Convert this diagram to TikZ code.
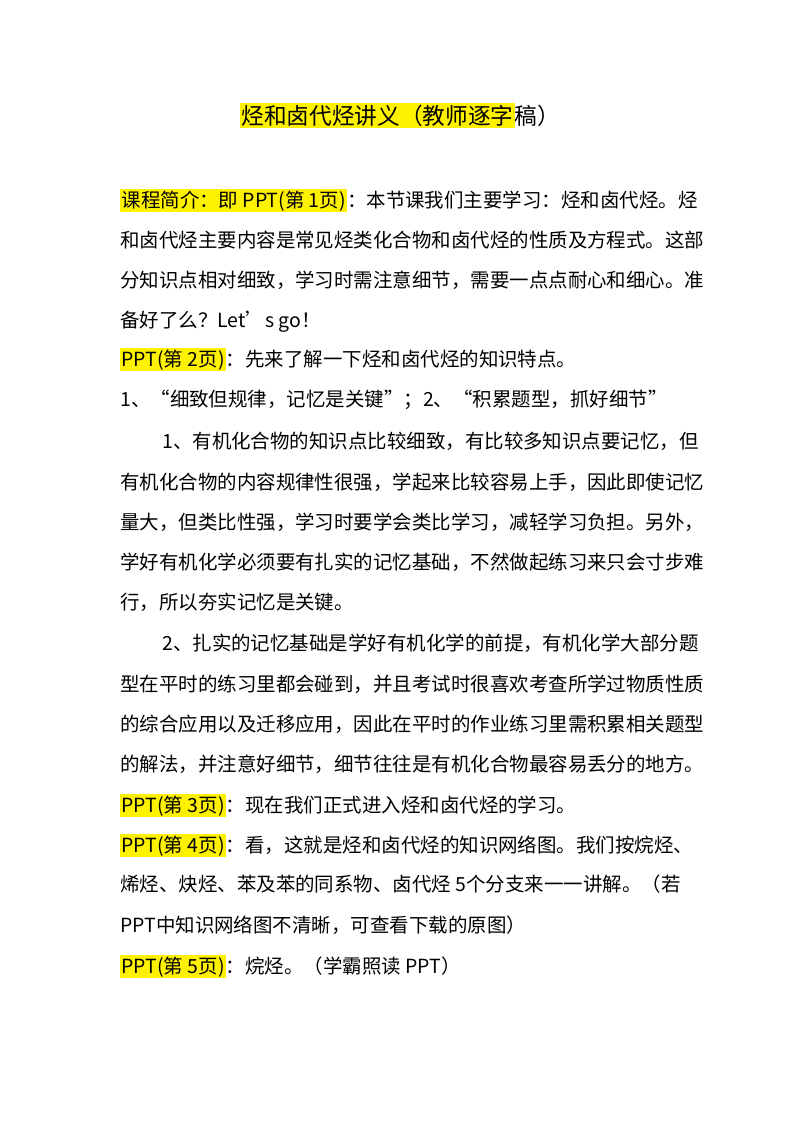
\documentclass[tikz,border=0pt]{standalone}
\usepackage{fontspec}
\setmainfont{Noto Sans CJK SC}
\newcommand{\hlt}[1]{{\setlength{\fboxsep}{1pt}\colorbox{yellow}{#1}}}
\begin{document}
\begin{tikzpicture}[x=0.75pt,y=-0.75pt,
  ln/.style={anchor=base west,inner sep=0pt,font=\fontsize{14.6}{18}\selectfont},
  ttl/.style={anchor=base,inner sep=0pt,font=\fontsize{17}{22}\selectfont}]
\useasboundingbox (0,0) rectangle (800,1132);
\fill[white] (0,0) rectangle (800,1132);
\node[ttl] (t) at (400,124) {\hlt{烃和卤代烃讲义（教师逐字}稿）};
\node[ln] (l1) at (120,207) {\hlt{课程简介：即 PPT(第 1页)}：本节课我们主要学习：烃和卤代烃。烃};
\node[ln] (l2) at (120,247) {和卤代烃主要内容是常见烃类化合物和卤代烃的性质及方程式。这部};
\node[ln] (l3) at (120,287) {分知识点相对细致，学习时需注意细节，需要一点点耐心和细心。准};
\node[ln] (l4) at (120,327) {备好了么？Let’s go！};
\node[ln] (l5) at (120,366) {\hlt{PPT(第 2页)}：先来了解一下烃和卤代烃的知识特点。};
\node[ln] (l6) at (120,406) {1、“细致但规律，记忆是关键”；2、“积累题型，抓好细节”};
\node[ln] (l7) at (162,448) {1、有机化合物的知识点比较细致，有比较多知识点要记忆，但};
\node[ln] (l8) at (120,489) {有机化合物的内容规律性很强，学起来比较容易上手，因此即使记忆};
\node[ln] (l9) at (120,529) {量大，但类比性强，学习时要学会类比学习，减轻学习负担。另外，};
\node[ln] (l10) at (120,569) {学好有机化学必须要有扎实的记忆基础，不然做起练习来只会寸步难};
\node[ln] (l11) at (120,609) {行，所以夯实记忆是关键。};
\node[ln] (l12) at (162,650) {2、扎实的记忆基础是学好有机化学的前提，有机化学大部分题};
\node[ln] (l13) at (120,691) {型在平时的练习里都会碰到，并且考试时很喜欢考查所学过物质性质};
\node[ln] (l14) at (120,731) {的综合应用以及迁移应用，因此在平时的作业练习里需积累相关题型};
\node[ln] (l15) at (120,771) {的解法，并注意好细节，细节往往是有机化合物最容易丢分的地方。};
\node[ln] (l16) at (120,812) {\hlt{PPT(第 3页)}：现在我们正式进入烃和卤代烃的学习。};
\node[ln] (l17) at (120,852) {\hlt{PPT(第 4页)}：看，这就是烃和卤代烃的知识网络图。我们按烷烃、};
\node[ln] (l18) at (120,891) {烯烃、炔烃、苯及苯的同系物、卤代烃 5个分支来一一讲解。（若};
\node[ln] (l19) at (120,932) {PPT中知识网络图不清晰，可查看下载的原图）};
\node[ln] (l20) at (120,973) {\hlt{PPT(第 5页)}：烷烃。（学霸照读 PPT）};
\end{tikzpicture}
\end{document}
